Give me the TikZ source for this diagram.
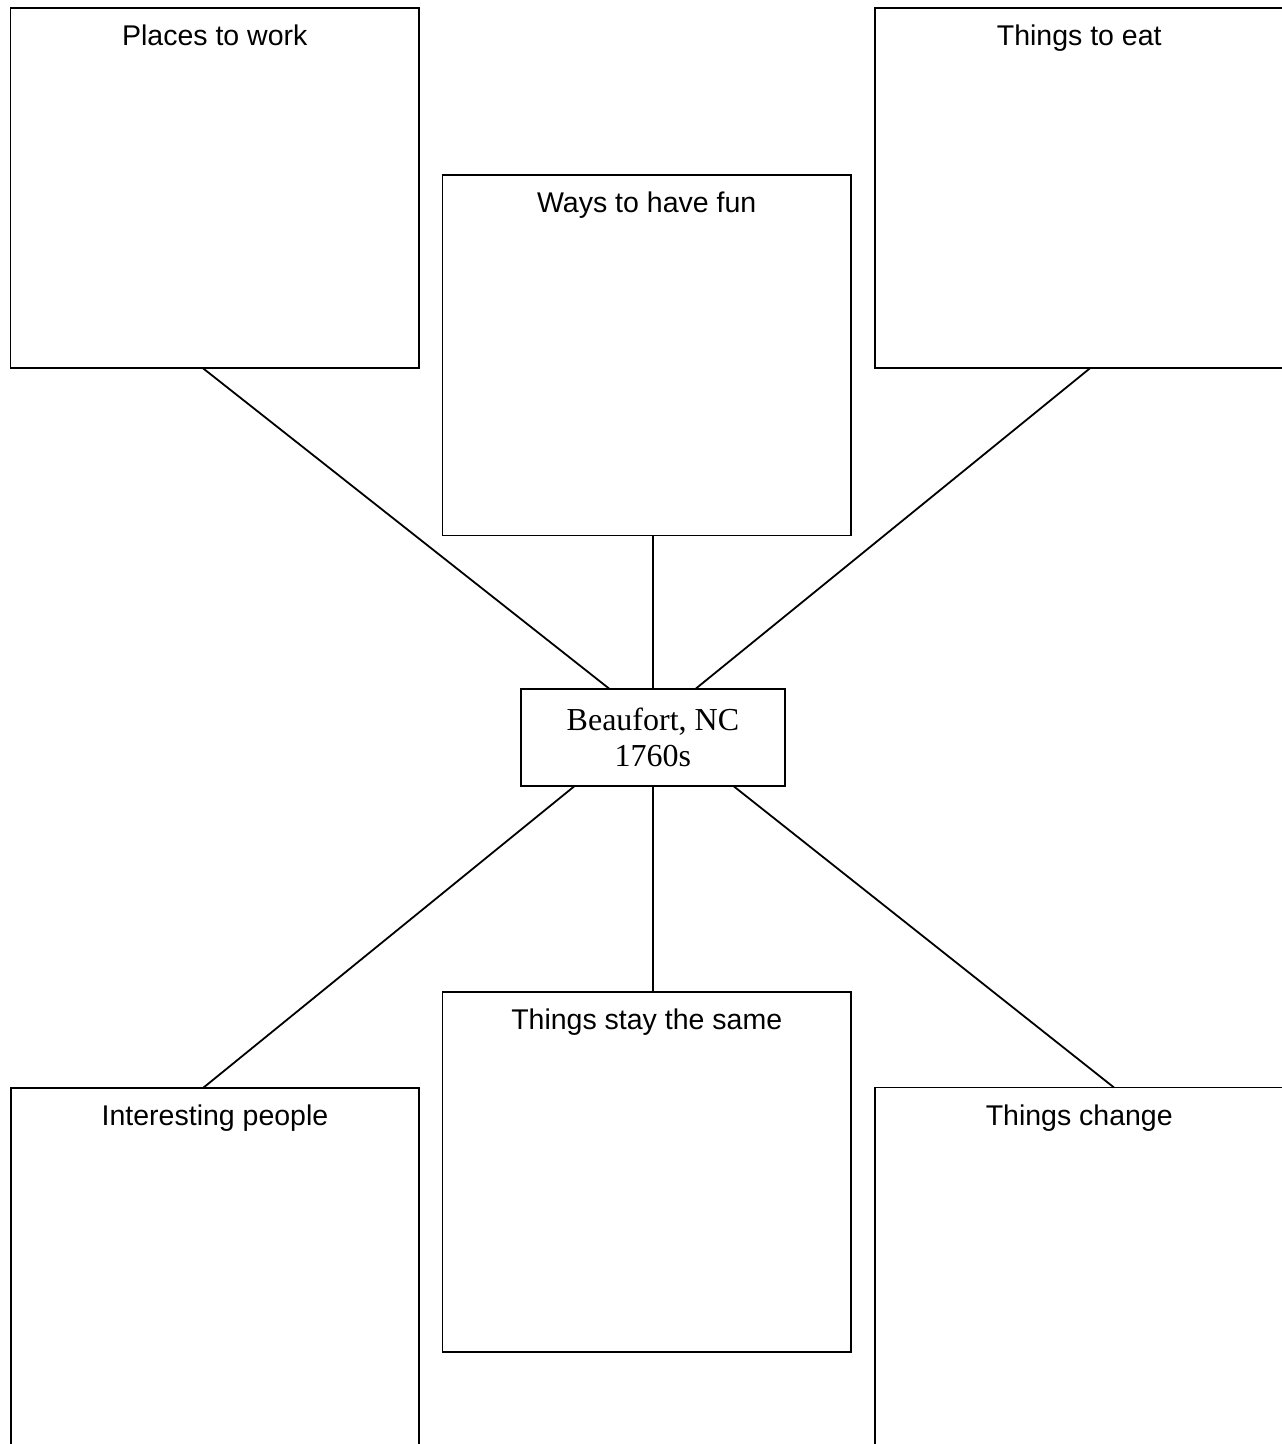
\documentclass[tikz,border=0pt]{standalone}
\usepackage{fontspec}
\setmainfont{Liberation Serif}
\newfontfamily\arialf{Liberation Sans}
\begin{document}
\begin{tikzpicture}[x=1pt,y=-1pt,
  bx/.style={draw, line width=1.8pt, minimum width=408.5pt, minimum height=360.5pt, inner sep=0pt, outer sep=0pt},
  tallbx/.style={bx, minimum height=420pt},
  lbl/.style={anchor=base, yshift=-37.5pt, inner sep=0pt, font=\arialf\fontsize{28.5}{34}\selectfont},
  link/.style={line width=1.8pt},
  ctr/.style={draw, line width=1.8pt, minimum width=264.3pt, minimum height=96.4pt, inner sep=0pt, outer sep=0pt, align=center, font=\fontsize{32}{36.5}\selectfont}]
\clip (0,0) rectangle (1282,1444);
\fill[white] (0,0) rectangle (1282,1444);
\node[bx, label={[lbl]north:Places to work}] (work) at (214.75,188) {};
\node[bx, label={[lbl]north:Things to eat}] (eat) at (1079.25,188) {};
\node[bx, label={[lbl]north:Ways to have fun}] (fun) at (646.7,355.3) {};
\node[bx, label={[lbl]north:Things stay the same}] (same) at (646.7,1172) {};
\node[tallbx, label={[lbl]north:Interesting people}] (people) at (215,1298) {};
\node[tallbx, label={[lbl]north:Things change}] (change) at (1079.25,1297.5) {};
\node[ctr] (c) at (652.9,737.5) {Beaufort, NC\\1760s};
\draw[link] ([xshift=-11.75pt]work.south) -- ([xshift=-42.9pt]c.north);
\draw[link] ([xshift=10.75pt]eat.south) -- ([xshift=42.1pt]c.north);
\draw[link] (c.north) -- (c.north |- fun.south);
\draw[link] ([xshift=-77.9pt]c.south) -- ([xshift=-12pt]people.north);
\draw[link] ([xshift=80.1pt]c.south) -- ([xshift=34.75pt]change.north);
\draw[link] (c.south) -- (c.south |- same.north);
\end{tikzpicture}
\end{document}
